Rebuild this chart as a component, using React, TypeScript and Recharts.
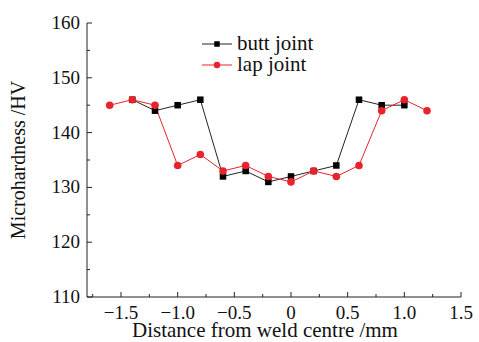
import React from 'react'
import { LineChart, Line, XAxis, YAxis, Legend } from 'recharts'

const buttJoint = [
  { x: -1.4, hv: 146 },
  { x: -1.2, hv: 144 },
  { x: -1.0, hv: 145 },
  { x: -0.8, hv: 146 },
  { x: -0.6, hv: 132 },
  { x: -0.4, hv: 133 },
  { x: -0.2, hv: 131 },
  { x: 0, hv: 132 },
  { x: 0.2, hv: 133 },
  { x: 0.4, hv: 134 },
  { x: 0.6, hv: 146 },
  { x: 0.8, hv: 145 },
  { x: 1.0, hv: 145 },
]

const lapJoint = [
  { x: -1.6, hv: 145 },
  { x: -1.4, hv: 146 },
  { x: -1.2, hv: 145 },
  { x: -1.0, hv: 134 },
  { x: -0.8, hv: 136 },
  { x: -0.6, hv: 133 },
  { x: -0.4, hv: 134 },
  { x: -0.2, hv: 132 },
  { x: 0, hv: 131 },
  { x: 0.2, hv: 133 },
  { x: 0.4, hv: 132 },
  { x: 0.6, hv: 134 },
  { x: 0.8, hv: 144 },
  { x: 1.0, hv: 146 },
  { x: 1.2, hv: 144 },
]

const xTicks = [-1.75, -1.5, -1.25, -1.0, -0.75, -0.5, -0.25, 0, 0.25, 0.5, 0.75, 1.0, 1.25, 1.5]
const xLabels: Record<string, string> = {
  '-1.5': '\u22121.5', '-1': '\u22121.0', '-0.5': '\u22120.5', '0': '0',
  '0.5': '0.5', '1': '1.0', '1.5': '1.5',
}
const yTicks = [110, 115, 120, 125, 130, 135, 140, 145, 150, 155, 160]

const FONT = '"Liberation Serif", serif'
const INK = '#222'
const RED = '#e8232b'

function XTick(props: any) {
  const { x, y, payload } = props
  const label = xLabels[String(payload.value)]
  const major = label !== undefined
  return (
    <g>
      <line x1={x} x2={x} y1={y} y2={y - (major ? 5 : 3)} stroke={INK} />
      {major && (
        <text x={x} y={y + 22} textAnchor="middle" style={{ fontFamily: FONT, fontSize: 19 }} fill="#111">
          {label}
        </text>
      )}
    </g>
  )
}

function YTick(props: any) {
  const { x, y, payload } = props
  const major = payload.value % 10 === 0
  return (
    <g>
      <line x1={x} x2={x + (major ? 5 : 3)} y1={y} y2={y} stroke={INK} />
      {major && (
        <text x={x - 7} y={y + 6} textAnchor="end" style={{ fontFamily: FONT, fontSize: 19 }} fill="#111">
          {payload.value}
        </text>
      )}
    </g>
  )
}

function SquareDot(props: any) {
  const { cx, cy } = props
  if (cx == null || cy == null) return null
  return <rect x={cx - 3.25} y={cy - 3.25} width={6.5} height={6.5} fill="#000" />
}

function RoundDot(props: any) {
  const { cx, cy } = props
  if (cx == null || cy == null) return null
  return <circle cx={cx} cy={cy} r={3.8} fill={RED} />
}

function LegendBox() {
  const rows = [
    { name: 'butt joint', color: INK, square: true },
    { name: 'lap joint', color: RED, square: false },
  ]
  return (
    <svg width={140} height={56}>
      {rows.map((r, i) => {
        const cy = 17 + i * 21
        return (
          <g key={r.name}>
            <line x1={2} x2={32} y1={cy} y2={cy} stroke={r.color} />
            {r.square
              ? <rect x={17 - 2.75} y={cy - 2.75} width={5.5} height={5.5} fill="#000" />
              : <circle cx={17} cy={cy} r={3.2} fill={RED} />}
            <text x={37} y={cy + 6} style={{ fontFamily: FONT, fontSize: 21 }} fill="#111">{r.name}</text>
          </g>
        )
      })}
    </svg>
  )
}

export default function App() {
  return (
    <div style={{ position: 'absolute', left: 0, top: 0, background: '#fff' }}>
      <LineChart width={479} height={342} margin={{ top: 23, right: 18, left: 0, bottom: 0 }}>
        <XAxis
          type="number"
          dataKey="x"
          domain={[-1.8, 1.5]}
          ticks={xTicks}
          interval={0}
          tickSize={0}
          tickMargin={0}
          tick={<XTick />}
          axisLine={{ stroke: INK }}
          height={45}
          allowDataOverflow
        />
        <XAxis xAxisId="top" orientation="top" type="number" domain={[-1.8, 1.5]} height={0} tick={false} tickLine={false} axisLine={{ stroke: INK }} />
        <YAxis
          type="number"
          dataKey="hv"
          domain={[110, 160]}
          ticks={yTicks}
          interval={0}
          tickSize={0}
          tickMargin={0}
          tick={<YTick />}
          axisLine={{ stroke: INK }}
          width={87}
          allowDataOverflow
        />
        <YAxis yAxisId="right" orientation="right" type="number" domain={[110, 160]} width={0} tick={false} tickLine={false} axisLine={{ stroke: INK }} />
        <text x={20} y={160} transform="rotate(-90 20 160)" textAnchor="middle" dominantBaseline="middle" style={{ fontFamily: FONT, fontSize: 20 }} fill="#111">
          Microhardness /HV
        </text>
        <text x={265} y={337} textAnchor="middle" style={{ fontFamily: FONT, fontSize: 21 }} fill="#111">
          Distance from weld centre /mm
        </text>
        <Legend
          content={<LegendBox />}
          layout="horizontal"
          verticalAlign="middle"
          align="center"
          wrapperStyle={{ left: 200, top: 27, width: 140 }}
        />
        <Line
          data={buttJoint}
          dataKey="hv"
          name="butt joint"
          stroke={INK}
          strokeWidth={1}
          dot={<SquareDot />}
          activeDot={false}
          isAnimationActive={false}
        />
        <Line
          data={lapJoint}
          dataKey="hv"
          name="lap joint"
          stroke={RED}
          strokeWidth={1}
          dot={<RoundDot />}
          activeDot={false}
          isAnimationActive={false}
        />
      </LineChart>
    </div>
  )
}
